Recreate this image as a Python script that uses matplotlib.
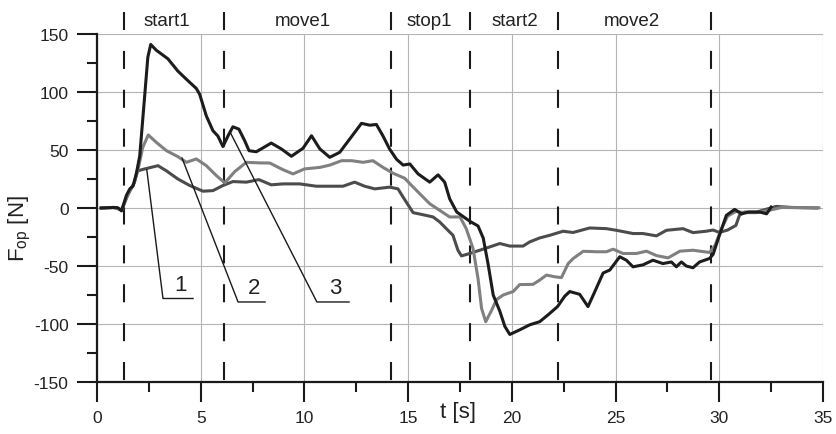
import numpy as np
import matplotlib.pyplot as plt
from matplotlib.ticker import MultipleLocator

plt.rcParams['font.family'] = ['Liberation Sans', 'DejaVu Sans']
plt.rcParams['lines.scale_dashes'] = False
plt.rcParams['axes.unicode_minus'] = False

# force traces (time [s], force [N])
t1 = [0.2, 0.8, 1.2, 1.45, 1.65, 1.8, 1.95, 2.3, 2.94, 3.35, 3.9, 4.47, 5.11, 5.59,
      6.07, 6.55, 7.2, 7.8, 8.4, 8.97, 9.77, 10.57, 11.22, 11.86, 12.42, 12.9, 13.39,
      14.11, 14.51, 14.76, 14.95, 15.24, 15.72, 16.2, 16.52, 16.84, 17.16, 17.4, 17.57,
      17.97, 18.45, 18.94, 19.42, 19.9, 20.54, 20.86, 21.34, 21.83, 22.47, 22.95, 23.75,
      24.56, 25.04, 25.84, 26.32, 26.97, 27.45, 28.25, 28.73, 29.37, 29.7, 30.0, 30.4,
      30.8, 30.97, 31.2, 31.8, 32.35, 32.75, 33.5, 34.7]
f1 = [0, 0.5, -1.5, 10, 17, 22, 32, 33.7, 36.5, 32, 25, 19.4, 14.5, 15,
      19.4, 22.8, 22.3, 24.5, 20, 20.8, 20.8, 18.8, 18.8, 18.8, 22.3, 18.8, 16.5,
      18, 16.5, 9.3, 4, -4, -5.8, -7.7, -12, -17.8, -23.5, -36.4, -41.3,
      -39.2, -36.4, -33.5, -30.6, -32.8, -32.8, -29.2, -25.8, -23.5, -20, -21.1, -17.2,
      -17.8, -19.2, -22, -22, -24, -19.2, -17.8, -21.2, -20, -19, -21, -19,
      -15, -6.3, -3.5, -3.5, -0.6, 1.4, 0.5, 0]

t2 = [0.2, 0.8, 1.2, 1.45, 1.65, 1.8, 2.0, 2.2, 2.47, 2.86, 3.35, 3.9, 4.31, 4.79,
      5.27, 5.75, 6.16, 6.64, 7.2, 7.85, 8.33, 8.97, 9.45, 10.0, 10.74, 11.22, 11.79,
      12.27, 12.83, 13.3, 13.79, 14.27, 14.83, 15.08, 15.56, 16.04, 16.52, 17.0, 17.5,
      17.8, 18.13, 18.37, 18.54, 18.74, 19.0, 19.26, 19.58, 20.06, 20.38, 21.02, 21.35,
      21.67, 22.07, 22.39, 22.71, 22.95, 23.44, 24.08, 24.56, 24.88, 25.36, 26.0, 26.49,
      26.97, 27.53, 28.1, 28.73, 29.53, 29.8, 30.1, 30.4, 30.8, 31.2, 31.8, 32.4, 33.0,
      34.0, 34.8]
f2 = [0, 0.3, -1.5, 10, 17, 22, 35, 52, 63, 56.6, 49.4, 44.3, 39.4, 42.3,
      36.5, 28, 21.7, 31.4, 39.4, 38.9, 38.8, 33, 29.4, 33.7, 35, 37, 40.8,
      40.8, 39.4, 40.8, 35, 30, 25.7, 21, 12.3, 3.7, -2, -7.7, -7.7,
      -17.8, -35, -61, -86.6, -98, -89, -79, -75, -72, -66, -65.8, -62,
      -57.8, -59.3, -60, -48, -43.6, -37.3, -37.7, -37.7, -35.5, -39.2, -39.2, -37.2,
      -41, -43, -37.2, -36.4, -38.3, -32, -18, -7, -3, -4, -4, -2, 0.5,
      0.3, 0.2]

t3 = [0.2, 0.8, 1.0, 1.18, 1.42, 1.58, 1.74, 1.9, 2.06, 2.3, 2.45, 2.59, 2.86, 3.42,
      3.9, 4.31, 4.79, 4.95, 5.27, 5.59, 5.83, 6.07, 6.31, 6.55, 6.84, 7.12, 7.33, 7.68,
      8.4, 8.89, 9.37, 9.93, 10.34, 10.74, 11.22, 11.7, 12.18, 12.75, 13.15, 13.47,
      13.79, 14.1, 14.44, 14.76, 15.08, 15.48, 16.04, 16.44, 16.76, 17.0, 17.34, 17.98,
      18.37, 18.62, 18.86, 19.1, 19.42, 19.66, 19.9, 20.38, 20.86, 21.34, 21.75, 22.2,
      22.55, 22.79, 23.27, 23.67, 24.0, 24.4, 24.72, 25.2, 25.52, 25.84, 26.32, 26.8,
      27.28, 27.69, 27.93, 28.17, 28.41, 28.73, 29.05, 29.53, 29.7, 30.0, 30.34, 30.74,
      31.07, 31.4, 31.96, 32.28, 32.5]
f3 = [0, 0.5, 0.3, -2.5, 11, 16.5, 19, 30, 45, 97, 130, 141, 136, 128.6,
      118, 111, 103, 98, 79.4, 66.6, 62, 53, 62, 70, 68, 58, 49.4, 48.5,
      56, 50.9, 44.6, 51.5, 62.3, 51, 43.7, 48, 59.4, 73, 71.4, 72,
      62, 51, 42, 37, 38, 29.4, 22.3, 28.6, 22.3, 8, -3.4, -11.5,
      -15.5, -26, -49, -75, -89, -102, -109, -105, -100.7, -98, -92, -85,
      -76, -72, -74.4, -85, -72, -56, -53.5, -42, -45, -50.7, -49, -45,
      -47.9, -46.5, -50.7, -46.5, -50, -51.5, -46.5, -43.5, -40, -23.7, -6.3, -1.2,
      -5, -3.5, -3.5, -5, 0.8]

# phase boundaries and names
phase_t = [1.3, 6.1, 14.15, 18.0, 22.2, 29.6]
phase_names = ['start1', 'move1', 'stop1', 'start2', 'move2']
phase_label_t = [3.36, 9.93, 16.04, 20.13, 25.8]

# curve labels: (start on curve, knee, end of shelf)
labels = ['1', '2', '3']
lead_start = [(2.4, 33), (4.1, 43), (6.4, 66)]
lead_knee = [(3.18, -78), (6.8, -81), (10.6, -81)]
lead_end = [4.63, 8.1, 12.15]

fig = plt.figure(figsize=(8.37, 4.35), dpi=100)
ax = fig.add_axes([0.1159, 0.1195, 0.8674, 0.8])

ax.plot(t1, f1, color='#4c4c4c', lw=2.2, solid_joinstyle='round', zorder=3)
ax.plot(t2, f2, color='#808080', lw=2.2, solid_joinstyle='round', zorder=3)
ax.plot(t3, f3, color='#1c1c1c', lw=2.2, solid_joinstyle='round', zorder=4)

for x in phase_t:
    ax.plot([x, x], [169, -150], color='#1a1a1a', lw=1.5,
            dashes=(13, 15), clip_on=False, zorder=2)
for x, name in zip(phase_label_t, phase_names):
    ax.text(x, 162, name, ha='center', va='center', fontsize=13.5, color='#222222')

for lab, s, k, e in zip(labels, lead_start, lead_knee, lead_end):
    ax.plot([s[0], k[0], e], [s[1], k[1], k[1]], color='#1a1a1a', lw=1.0, zorder=5)
    ax.text((k[0] + e) / 2 + 0.1, k[1] + 3, lab, ha='center', va='bottom',
            fontsize=16, color='#222222')

ax.set_xlim(0, 35)
ax.set_ylim(-150, 150)
ax.xaxis.set_major_locator(MultipleLocator(5))
ax.xaxis.set_minor_locator(MultipleLocator(2.5))
ax.yaxis.set_major_locator(MultipleLocator(50))
ax.yaxis.set_minor_locator(MultipleLocator(25))
ax.grid(True, which='major', color='#b4b4b4', lw=0.8)

for side in ['top', 'right']:
    ax.spines[side].set_visible(False)
for side in ['left', 'bottom']:
    ax.spines[side].set_linewidth(1.6)
    ax.spines[side].set_color('#1a1a1a')

ax.tick_params(which='major', length=14.5, width=1.5, color='#1a1a1a',
               labelsize=12.5, labelcolor='#222222', pad=6)
ax.tick_params(which='minor', length=7.5, width=1.5, color='#1a1a1a')

ax.text(17.4, -166, 't [s]', transform=ax.transData, ha='center', va='top',
        fontsize=16, color='#222222')
fig.text(0.024, 0.475, r'F$_\mathregular{op}$ [N]', rotation=90, ha='center',
         va='center', fontsize=16, color='#222222')

fig.savefig('out.png', dpi=100)
